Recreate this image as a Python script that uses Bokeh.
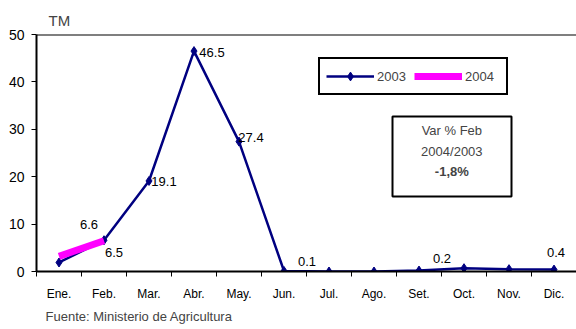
from bokeh.plotting import figure
from bokeh.models import (Range1d, FixedTicker, Span, Legend, LegendItem,
                          BoxAnnotation, Label, ColumnDataSource, Title)
from bokeh.core.properties import value
from bokeh.embed import file_html
from bokeh.resources import INLINE

months = ["Ene.", "Feb.", "Mar.", "Abr.", "May.", "Jun.", "Jul.", "Ago.",
          "Set.", "Oct.", "Nov.", "Dic."]
tm_2003 = [1.9, 6.6, 19.1, 46.5, 27.4, 0.1, 0.0, 0.0, 0.2, 0.7, 0.5, 0.4]
tm_2004 = [3.2, 6.5]
labeled_2003 = [1, 2, 3, 4, 5, 8, 11]
labeled_2004 = [1]
y_ticks = [0, 10, 20, 30, 40, 50]
note_lines = ["Var % Feb", "2004/2003", "-1,8%"]
source_text = "Fuente: Ministerio de Agricultura"

FONT = "Liberation Sans"
NAVY = "#000080"
MAGENTA = "#FF00FF"

xpos = [i + 0.5 for i in range(len(months))]

p = figure(width=576, height=329, output_backend="svg", toolbar_location=None,
           x_range=Range1d(0, 12), y_range=Range1d(0, 50),
           min_border_left=36, min_border_right=0, min_border_top=34,
           min_border_bottom=58, background_fill_color="white",
           border_fill_color="white")
p.outline_line_color = None
p.xgrid.visible = False
p.ygrid.visible = False

p.title.text = "TM"
p.title.align = "left"
p.title.offset = 12
p.title.standoff = 12
p.title.text_font = FONT
p.title.text_font_size = "15px"
p.title.text_font_style = "normal"

xa = p.xaxis[0]
xa.ticker = FixedTicker(ticks=xpos, minor_ticks=list(range(len(months) + 1)))
xa.major_label_overrides = {x: m for x, m in zip(xpos, months)}
xa.axis_line_width = 2
xa.axis_line_color = "black"
xa.major_tick_out = 0
xa.major_tick_in = 0
xa.minor_tick_out = 5
xa.minor_tick_in = 0
xa.minor_tick_line_color = "black"
xa.major_label_standoff = 10
xa.major_label_text_font = FONT
xa.major_label_text_font_size = "12px"
xa.major_label_text_color = "black"

ya = p.yaxis[0]
ya.ticker = FixedTicker(ticks=y_ticks, minor_ticks=[])
ya.axis_line_width = 2
ya.axis_line_color = "black"
ya.major_tick_out = 5
ya.major_tick_in = 0
ya.major_tick_line_color = "black"
ya.minor_tick_out = 0
ya.minor_tick_in = 0
ya.major_label_standoff = 7
ya.major_label_text_font = FONT
ya.major_label_text_font_size = "14px"
ya.major_label_text_color = "black"

p.add_layout(Span(location=50, dimension="width", line_color="black", line_width=2))

r03 = p.line(xpos, tm_2003, line_color=NAVY, line_width=2.5)
m03 = p.scatter(xpos, tm_2003, marker="diamond", size=9, color=NAVY)
r04 = p.line(xpos[:len(tm_2004)], tm_2004, line_color=MAGENTA, line_width=7)

# data labels (offsets in screen px)
off_2003 = {1: (-15, -16), 2: (15, 1), 3: (18, 1), 4: (12, -4), 5: (23, -10),
            8: (23, -12), 11: (2, -17)}
off_2004 = {1: (10, 12)}
lx, ly, lt, dx, dy = [], [], [], [], []
for i in labeled_2003:
    lx.append(xpos[i]); ly.append(tm_2003[i]); lt.append(f"{tm_2003[i]:.1f}")
    dx.append(off_2003[i][0]); dy.append(off_2003[i][1])
for i in labeled_2004:
    lx.append(xpos[i]); ly.append(tm_2004[i]); lt.append(f"{tm_2004[i]:.1f}")
    dx.append(off_2004[i][0]); dy.append(off_2004[i][1])
src = ColumnDataSource(dict(x=lx, y=ly, text=lt, dx=dx, dy=dy))
p.text(x="x", y="y", text="text", x_offset="dx", y_offset="dy", source=src,
       text_align="center", text_baseline="middle", text_font=value(FONT),
       text_font_size="13px", text_color="black")

legend = Legend(items=[LegendItem(label="2003", renderers=[r03, m03]),
                       LegendItem(label="2004", renderers=[r04])],
                orientation="horizontal", location=(282, 176), margin=0,
                padding=6, spacing=2, glyph_width=48, glyph_height=22,
                label_standoff=3, label_width=35,
                label_text_font=FONT, label_text_font_size="13px",
                border_line_color="black", border_line_width=2,
                border_line_alpha=1,
                background_fill_color="white", background_fill_alpha=1)
p.add_layout(legend)

p.add_layout(BoxAnnotation(left=(392 - 36) / 45, right=(511 - 36) / 45,
                           top=32.7, bottom=15.8, fill_color="white",
                           fill_alpha=1, line_color="black", line_alpha=1,
                           line_width=2))
for k, (txt, yy) in enumerate(zip(note_lines, [29.75, 25.3, 21.1])):
    p.add_layout(Label(x=9.23, y=yy, text=txt, text_align="center",
                       text_baseline="middle", text_font=FONT,
                       text_font_size="13px",
                       text_font_style="bold" if k == 2 else "normal"))

p.add_layout(Title(text=source_text, align="left", offset=9, standoff=7,
                   text_font=FONT, text_font_size="13px",
                   text_font_style="normal"), "below")

open("out.html", "w").write(file_html(p, INLINE))
